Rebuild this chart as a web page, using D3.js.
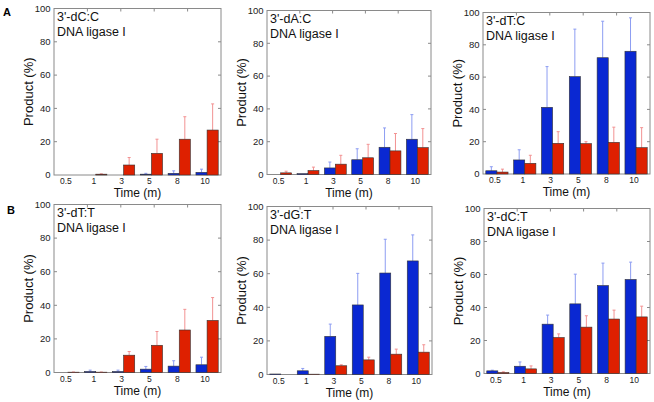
<!DOCTYPE html>
<html>
<head>
<meta charset="utf-8">
<script src="https://cdn.jsdelivr.net/npm/d3@7"></script>
<style>
  body { margin: 0; background: #fff; }
  svg { font-family: "Liberation Sans", Arial, sans-serif; }
</style>
</head>
<body>
<svg width="654" height="402"></svg>
<script>
// categories
const times = ["0.5", "1", "3", "5", "8", "10"];
const yTicks = [0, 20, 40, 60, 80, 100];
const titles = ["3'-dC:C", "3'-dA:C", "3'-dT:C", "3'-dT:T", "3'-dG:T", "3'-dC:T"];
const enzyme = "DNA ligase I";

// blue series (mean, upper error)
const blueVals = [
  [0, 0, 0, 0.5, 1, 1.6],
  [0, 0.5, 4, 9, 16.6, 21.5],
  [2, 8.7, 41.3, 60.3, 72, 76],
  [0, 0.6, 0.6, 2, 3.8, 4.6],
  [0.3, 2.2, 22.7, 41.4, 60.4, 67.6],
  [1.6, 4.4, 29.9, 42.2, 53.3, 57]
];
const blueErr = [
  [0, 0, 0, 0.5, 1.5, 1.9],
  [0, 0, 3.6, 6.7, 11.8, 15],
  [2.5, 6.3, 25.2, 29.4, 22.6, 20.7],
  [0, 0.8, 0.8, 1.6, 3.2, 4.5],
  [0, 1.4, 7.3, 18.8, 20.1, 15.5],
  [0.4, 2.6, 5.5, 18, 13.6, 10.5]
];
// red series
const redVals = [
  [0, 0.5, 6, 13, 21.5, 27],
  [1, 2.4, 6.3, 10.2, 14.4, 16.4],
  [1.2, 6.6, 19, 18.8, 19.6, 16.3],
  [0.2, 0.2, 10.3, 16.2, 25.3, 31],
  [0, 0.2, 5.2, 8.7, 12.1, 13.3],
  [0.6, 2.8, 21.8, 28.1, 33, 34.3]
];
const redErr = [
  [0, 0.2, 4.5, 8.5, 13.5, 15.7],
  [1, 2.1, 5.4, 8.2, 10.6, 11.6],
  [1.8, 5, 7.2, 1.2, 9.4, 12.4],
  [0.1, 0.1, 2.2, 8.2, 12.3, 13.6],
  [0, 0, 0.6, 1.6, 3, 4.4],
  [0.4, 1.8, 2.2, 6.9, 5.4, 6.5]
];

const svg = d3.select('svg');

// plot frames for each panel
const frames = [
  {x0: 54, x1: 221, y0: 8.5, y1: 175},
  {x0: 267, x1: 431, y0: 10.5, y1: 174.5},
  {x0: 483, x1: 650, y0: 12.5, y1: 174},
  {x0: 54, x1: 221, y0: 204.5, y1: 372.5},
  {x0: 267, x1: 432, y0: 206.5, y1: 374.5},
  {x0: 484, x1: 650, y0: 208.5, y1: 373.5}
];

const blue = '#0a28d2', red = '#de2000';
const blueLight = '#8d9df2', redLight = '#f29292';

svg.append('text').attr('x', 3).attr('y', 15.5)
  .attr('font-size', 11).attr('font-weight', 'bold').text('A');
svg.append('text').attr('x', 7).attr('y', 213.5)
  .attr('font-size', 11).attr('font-weight', 'bold').text('B');

frames.forEach((f, i) => {
  const g = svg.append('g');
  const x = d3.scaleBand().domain(times).range([f.x0, f.x1]).paddingInner(0.2).paddingOuter(0.1);
  const xs = d3.scaleBand().domain(['b', 'r']).range([0, x.bandwidth()]);
  const y = d3.scaleLinear().domain([0, 100]).range([f.y1, f.y0]);

  // frame
  g.append('rect').attr('x', f.x0).attr('y', f.y0)
    .attr('width', f.x1 - f.x0).attr('height', f.y1 - f.y0)
    .attr('fill', 'none').attr('stroke', '#8a8a8a').attr('stroke-width', 1);

  // inner ticks left / right
  yTicks.slice(1, -1).forEach(t => {
    g.append('line').attr('x1', f.x0).attr('x2', f.x0 + 3).attr('y1', y(t)).attr('y2', y(t))
      .attr('stroke', '#8a8a8a');
    g.append('line').attr('x1', f.x1 - 3).attr('x2', f.x1).attr('y1', y(t)).attr('y2', y(t))
      .attr('stroke', '#8a8a8a');
  });
  // top ticks
  d3.range(1, 5).forEach(k => {
    const tx = f.x0 + (f.x1 - f.x0) * k / 5;
    g.append('line').attr('x1', tx).attr('x2', tx).attr('y1', f.y0).attr('y2', f.y0 + 3)
      .attr('stroke', '#8a8a8a');
  });

  // y tick labels
  g.selectAll('.yl').data(yTicks).enter().append('text')
    .attr('x', f.x0 - 3.5).attr('y', d => y(d) + 3.3)
    .attr('text-anchor', 'end').attr('font-size', 9.5).attr('fill', '#222')
    .text(d => d);

  // x tick labels
  g.selectAll('.xl').data(times).enter().append('text')
    .attr('x', d => x(d) + x.bandwidth() / 2 - 2).attr('y', f.y1 + 9)
    .attr('text-anchor', 'middle').attr('font-size', 8.5).attr('fill', '#222')
    .text(d => d);

  // axis titles
  g.append('text').attr('x', (f.x0 + f.x1) / 2).attr('y', f.y1 + 22)
    .attr('text-anchor', 'middle').attr('font-size', 12).attr('fill', '#111')
    .text('Time (m)');
  g.append('text')
    .attr('transform', `translate(${f.x0 - 21},${(f.y0 + f.y1) / 2}) rotate(-90)`)
    .attr('text-anchor', 'middle').attr('font-size', 13).attr('fill', '#111')
    .text('Product (%)');

  // panel title
  g.append('text').attr('x', f.x0 + 3).attr('y', f.y0 + 12.5)
    .attr('font-size', 12.5).attr('fill', '#111').text(titles[i]);
  g.append('text').attr('x', f.x0 + 3).attr('y', f.y0 + 27)
    .attr('font-size', 12.5).attr('fill', '#111').text(enzyme);

  const series = [
    {key: 'b', vals: blueVals[i], err: blueErr[i], fill: blue, light: blueLight},
    {key: 'r', vals: redVals[i], err: redErr[i], fill: red, light: redLight}
  ];

  series.forEach(s => {
    const rows = times.map((t, j) => ({t, v: s.vals[j], e: s.err[j]}));
    // error bars
    rows.filter(d => d.e > 0).forEach(d => {
      const cx = x(d.t) + xs(s.key) + xs.bandwidth() / 2;
      g.append('line').attr('x1', cx).attr('x2', cx)
        .attr('y1', y(d.v)).attr('y2', y(d.v + d.e))
        .attr('stroke', s.light).attr('stroke-width', 1);
      g.append('line').attr('x1', cx - 1.5).attr('x2', cx + 1.5)
        .attr('y1', y(d.v + d.e)).attr('y2', y(d.v + d.e))
        .attr('stroke', s.light).attr('stroke-width', 1);
    });
    // bars
    g.selectAll('.bar-' + s.key).data(rows.filter(d => d.v > 0)).enter().append('rect')
      .attr('x', d => x(d.t) + xs(s.key))
      .attr('width', xs.bandwidth())
      .attr('y', d => y(d.v))
      .attr('height', d => y(0) - y(d.v))
      .attr('fill', s.fill)
      .attr('stroke', '#333').attr('stroke-width', 0.6);
  });
});
</script>
</body>
</html>
